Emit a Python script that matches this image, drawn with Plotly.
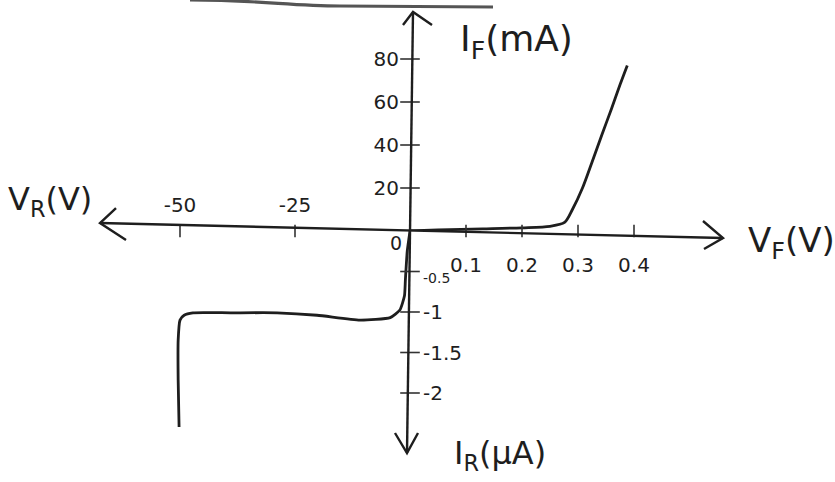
import plotly.graph_objects as go

# ---- data -------------------------------------------------------------
# forward bias branch: V_F in volts, I_F in mA
fwd_v = [0.0, 0.05, 0.13, 0.2, 0.25, 0.276, 0.29, 0.308, 0.325, 0.343, 0.36, 0.375, 0.388]
fwd_i = [0.0, 0.5, 1.0, 1.5, 2.2, 4.0, 10.0, 20.0, 32.0, 45.0, 57.0, 68.0, 77.0]

# reverse bias branch: V_R in volts, I_R in microamps
rev_v = [0.0, -0.6, -1.0, -1.2, -2.2, -4.3, -10.9, -20.2, -28.9, -39.0, -47.2, -49.1,
         -50.0, -50.4, -50.4, -50.2]
rev_i = [0.0, -0.25, -0.6, -0.8, -0.975, -1.07, -1.10, -1.04, -1.01, -1.01, -1.01, -1.04,
         -1.10, -1.35, -1.84, -2.42]

# tick values and labels
fwd_v_ticks = [0.1, 0.2, 0.3, 0.4]
fwd_v_text = ["0.1", "0.2", "0.3", "0.4"]
fwd_i_ticks = [20, 40, 60, 80]
fwd_i_text = ["20", "40", "60", "80"]
rev_v_ticks = [-50, -25]
rev_v_text = ["-50", "-25"]
rev_i_ticks = [-0.5, -1, -1.5, -2]
rev_i_text = ["<sub>-0.5</sub>", "-1", "-1.5", "-2"]

# ---- layout geometry (pixels on the 835 x 482 canvas) -------------------
W, H = 835, 482
OX, OY = 410, 231                 # where the two axes cross
F_PX_PER_V, F_PX_PER_MA = 560.0, 2.15
R_PX_PER_V, R_PX_PER_UA = 4.6, 81.0


def px(x):
    return x / W


def py(y):
    return 1 - y / H


INK = "#1e1e1e"
FONT = "DejaVu Sans"

fig = go.Figure()

# characteristic curves
fig.add_trace(go.Scatter(x=fwd_v, y=fwd_i, mode="lines", xaxis="x", yaxis="y",
                         line=dict(color=INK, width=2.8, shape="spline", smoothing=0.8),
                         hoverinfo="x+y", showlegend=False))
fig.add_trace(go.Scatter(x=rev_v, y=rev_i, mode="lines", xaxis="x2", yaxis="y2",
                         line=dict(color=INK, width=2.8, shape="spline", smoothing=0.5),
                         hoverinfo="x+y", showlegend=False))

# small tick strokes across the axes
TICK_INK = "#333333"
tick_line = dict(color=TICK_INK, width=1.6)
tick_traces = [
    (fwd_v_ticks, [0] * len(fwd_v_ticks), "x", "y", "line-ns-open", 9),
    ([0] * len(fwd_i_ticks), fwd_i_ticks, "x", "y", "line-ew-open", 14),
    (rev_v_ticks, [0] * len(rev_v_ticks), "x2", "y2", "line-ns-open", 9),
    ([0] * len(rev_i_ticks), rev_i_ticks, "x2", "y2", "line-ew-open", 14),
]
for tx, ty, xa, ya, sym, size in tick_traces:
    fig.add_trace(go.Scatter(x=tx, y=ty, xaxis=xa, yaxis=ya, mode="markers",
                             hoverinfo="skip", showlegend=False, cliponaxis=False,
                             marker=dict(symbol=sym, size=size, color=TICK_INK, line=tick_line)))

hidden = dict(showgrid=False, zeroline=False, showline=False, ticks="",
              tickfont=dict(family=FONT, size=20, color=INK), fixedrange=True)

fig.update_layout(
    width=W, height=H,
    margin=dict(l=0, r=0, t=0, b=0),
    paper_bgcolor="white", plot_bgcolor="rgba(0,0,0,0)",
    showlegend=False,
    xaxis=dict(hidden, domain=[px(OX), px(705)], range=[0, (705 - OX) / F_PX_PER_V],
               anchor="y", side="bottom", tickvals=fwd_v_ticks, ticktext=fwd_v_text,
               ticklabelstandoff=20),
    yaxis=dict(hidden, domain=[py(OY), py(30)], range=[0, (OY - 30) / F_PX_PER_MA],
               anchor="x", side="left", tickvals=fwd_i_ticks, ticktext=fwd_i_text,
               ticklabelstandoff=10),
    xaxis2=dict(hidden, domain=[px(140), px(OX)], range=[-(OX - 140) / R_PX_PER_V, 0],
                anchor="y2", side="top", tickvals=rev_v_ticks, ticktext=rev_v_text,
                ticklabelstandoff=14),
    yaxis2=dict(hidden, domain=[py(445), py(OY)], range=[-(445 - OY) / R_PX_PER_UA, 0],
                anchor="x2", side="right", tickvals=rev_i_ticks, ticktext=rev_i_text,
                ticklabelstandoff=12),
)


def path(points):
    return "M " + " L ".join(f"{px(x):.5f},{py(y):.5f}" for x, y in points)


axis_style = dict(type="path", xref="paper", yref="paper", line=dict(color=INK, width=2.4))
# hand-drawn axes with open arrow heads
fig.add_shape(path=path([(100, 223), (723, 238)]), **axis_style)
fig.add_shape(path=path([(703, 221), (723, 238), (704, 249)]), **axis_style)
fig.add_shape(path=path([(116, 208), (100, 223), (126, 240)]), **axis_style)
fig.add_shape(path=path([(413, 12), (407, 453)]), **axis_style)
fig.add_shape(path=path([(403, 25), (413, 12), (432, 25)]), **axis_style)
fig.add_shape(path=path([(395, 433), (407, 453), (418, 433)]), **axis_style)
# heading underline at the top edge
fig.add_shape(type="path", xref="paper", yref="paper",
              path="M {:.5f},{:.5f} C {:.5f},{:.5f} {:.5f},{:.5f} {:.5f},{:.5f} L {:.5f},{:.5f}".format(
                  px(190), py(0), px(260), py(0), px(290), py(6), px(340), py(6), px(493), py(7)),
              line=dict(color="#555", width=3.2))

labels = [
    ("I<sub>F</sub>(mA)", 516, 41, 36),
    ("V<sub>F</sub>(V)", 791, 242, 34),
    ("V<sub>R</sub>(V)", 50, 201, 32),
    ("I<sub>R</sub>(μA)", 500, 455, 32),
    ("0", 396, 243, 19),
]
for text, x, y, size in labels:
    fig.add_annotation(text=text, x=px(x), y=py(y), xref="paper", yref="paper",
                       showarrow=False, xanchor="center", yanchor="middle",
                       font=dict(family=FONT, size=size, color=INK))

fig.write_html("out.html")
